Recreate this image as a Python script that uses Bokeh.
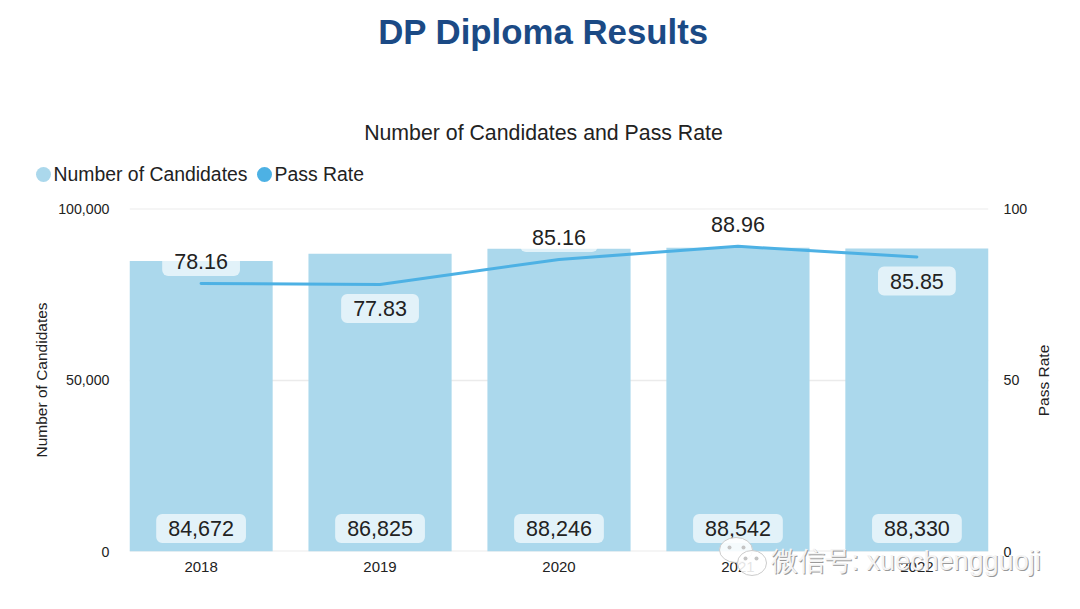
import math
from bokeh.plotting import figure
from bokeh.layouts import column
from bokeh.embed import file_html
from bokeh.resources import INLINE
from bokeh.models import (ColumnDataSource, Range1d, LinearAxis, FixedTicker, Label,
                          NumeralTickFormatter, Span)
from bokeh.core.properties import value

years = ["2018", "2019", "2020", "2021", "2022"]
candidates = [84672, 86825, 88246, 88542, 88330]
pass_rate = [78.16, 77.83, 85.16, 88.96, 85.85]
candidate_labels = ["84,672", "86,825", "88,246", "88,542", "88,330"]
rate_labels = ["78.16", "77.83", "85.16", "88.96", "85.85"]
rate_offsets = [-22, 24, -22, -22, 24]
series_names = ["Number of Candidates", "Pass Rate"]

FONT = "Liberation Sans"
BAR = "#abd8ec"
LINE = "#4db1e4"
GRID = "#ebebeb"
INK = "#222222"
W, H = 1072, 601

xs = list(range(len(years)))
src = ColumnDataSource(dict(x=xs, n=candidates, r=pass_rate, nl=candidate_labels, rl=rate_labels,
                            off=rate_offsets, base=[0] * len(xs)))

p = figure(width=W, height=H, output_backend="svg", toolbar_location=None,
           x_range=Range1d(-0.4, 4.4), y_range=Range1d(0, 100000),
           min_border_left=129, min_border_right=84, min_border_top=208, min_border_bottom=50,
           margin=0, frame_align=False)
p.extra_y_ranges = {"rate": Range1d(0, 100)}
p.outline_line_color = None
p.background_fill_color = "white"

p.xgrid.visible = False
p.ygrid.ticker = FixedTicker(ticks=[50000])
p.ygrid.grid_line_color = GRID
p.ygrid.grid_line_width = 1.5
for loc in (0, 100000):
    p.add_layout(Span(location=loc, dimension="width", line_color=GRID, line_width=2, level="underlay"))

def style(ax, size):
    ax.axis_line_color = None
    ax.major_tick_line_color = None
    ax.minor_tick_line_color = None
    ax.major_label_text_font = FONT
    ax.major_label_text_font_size = size
    ax.major_label_text_color = INK
    ax.axis_label_text_font = FONT
    ax.axis_label_text_font_size = "15.5px"
    ax.axis_label_text_font_style = "normal"
    ax.axis_label_text_color = INK

xa = p.xaxis[0]
style(xa, "15px")
xa.ticker = FixedTicker(ticks=xs)
xa.major_label_overrides = {i: y for i, y in zip(xs, years)}
xa.major_label_standoff = 4

ya = p.yaxis[0]
style(ya, "14.2px")
ya.ticker = FixedTicker(ticks=[0, 50000, 100000])
ya.formatter = NumeralTickFormatter(format="0,0")
ya.axis_label = series_names[0]
ya.major_label_standoff = 14
ya.axis_label_standoff = 5

ra = LinearAxis(y_range_name="rate", ticker=FixedTicker(ticks=[0, 50, 100]))
style(ra, "14.2px")
ra.major_label_standoff = 9
p.add_layout(ra, "right")

p.vbar(x="x", top="n", width=0.8, source=src, fill_color=BAR, line_color=None)
p.line(x="x", y="r", source=src, y_range_name="rate", line_color=LINE, line_width=3, line_cap="round")

common = dict(text_font=value(FONT), text_font_size="21.5px", text_color=INK, text_align="center",
              text_baseline="middle", background_fill_color="white", background_fill_alpha=0.66,
              border_radius=6, padding=(12, 7))
p.text(x="x", y="base", text="nl", source=src, y_offset=-23, **common)
p.text(x="x", y="r", text="rl", source=src, y_range_name="rate", y_offset="off", **common)

# transparent sheet over the whole chart, measured in page pixels from the top-left:
# carries title, subtitle, legend and watermark, which lie outside the plot area.
o = figure(width=W, height=H, output_backend="svg", toolbar_location=None,
           x_range=Range1d(0, W), y_range=Range1d(H, 0), x_axis_type=None, y_axis_type=None,
           min_border=0, margin=(-H, 0, 0, 0), frame_align=False)
o.outline_line_color = None
o.background_fill_alpha = 0
o.border_fill_alpha = 0
o.grid.visible = False

def lab(text, x, y, **kw):
    o.add_layout(Label(x=x, y=y, text=text, text_font=FONT, text_baseline="middle", **kw))

lab("DP Diploma Results", 543, 31, text_font_size="34.8px", text_font_style="bold",
    text_color="#1b4a85", text_align="center")
lab("Number of Candidates and Pass Rate", 543, 132, text_font_size="21.3px", text_color=INK,
    text_align="center")
lab(series_names[1], 1043, 380, text_font_size="15.5px", text_color=INK, text_align="center",
    angle=math.pi / 2)

# legend
o.scatter(x=[43, 264], y=[174, 174], marker="circle", size=15, fill_color=[BAR, LINE], line_color=None)
lab(series_names[0], 53, 173.5, text_font_size="19.4px", text_color=INK)
lab(series_names[1], 274, 173.5, text_font_size="19.4px", text_color=INK)

# watermark
o.ellipse(x=[735.5, 751.5], y=[549.5, 562.5], width=[33, 29], height=[25, 25],
          fill_color="white", fill_alpha=0.88, line_color="#cccccc", line_width=1)
o.scatter(x=[729, 743, 745, 756], y=[547, 547, 558, 558], marker="circle", size=4,
          fill_color="#c4c4c4", line_color=None)
mark = "微信号: xuechengguoji"
lab(mark, 771, 561, text_font_size="27px", text_color="#999999")
lab(mark, 770, 560, text_font_size="27px", text_color="#f4f4f4")

open("out.html", "w").write(file_html(column(p, o, margin=0, spacing=0), INLINE))
